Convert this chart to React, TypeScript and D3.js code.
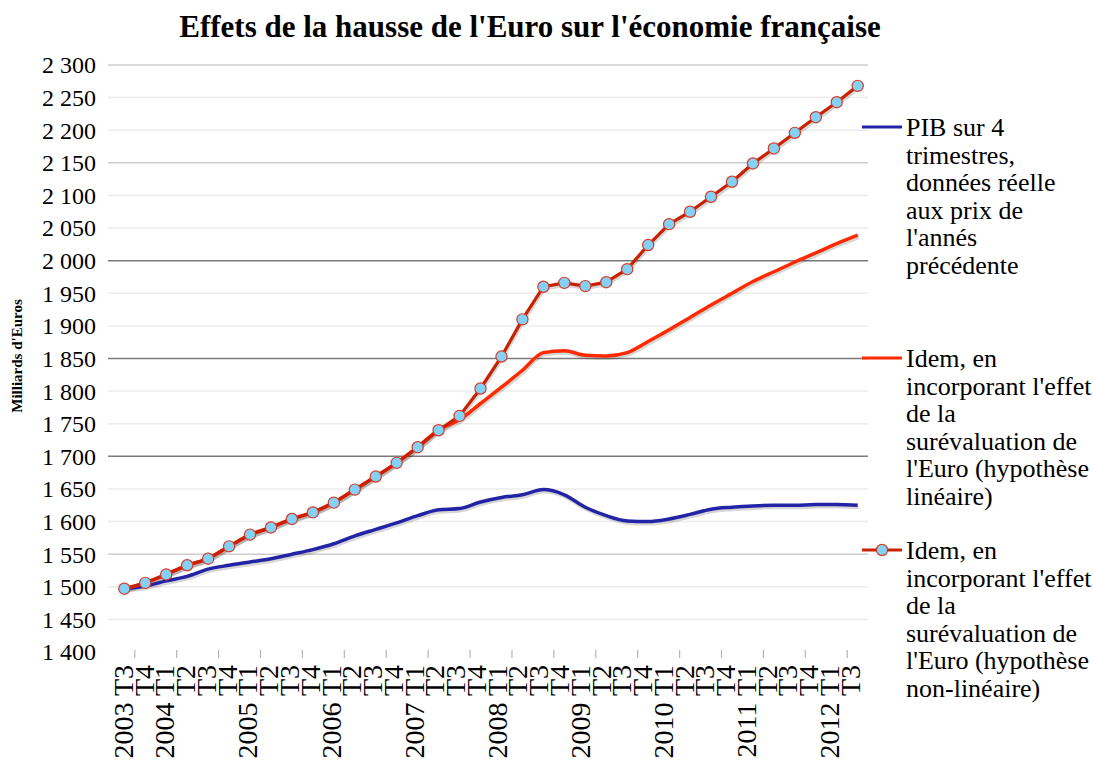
import React from 'react';
import * as d3 from 'd3';

const quarterLabels = [
  '2003 T3', 'T4',
  '2004 T1', 'T2', 'T3', 'T4',
  '2005 T1', 'T2', 'T3', 'T4',
  '2006 T1', 'T2', 'T3', 'T4',
  '2007 T1', 'T2', 'T3', 'T4',
  '2008 T1', 'T2', 'T3', 'T4',
  '2009 T1', 'T2', 'T3', 'T4',
  '2010 T1', 'T2', 'T3', 'T4',
  '2011 T1', 'T2', 'T3', 'T4',
  '2012 T1', 'T3',
];

const pibReel = [
  1497, 1501, 1509, 1516, 1527, 1533, 1538, 1543, 1550, 1557,
  1566, 1578, 1588, 1598, 1609, 1618, 1620, 1630, 1637, 1641,
  1649, 1641, 1622, 1609, 1601, 1600, 1604, 1611, 1619, 1622,
  1624, 1625, 1625, 1626, 1626, 1625,
];

const hypLineaire = [
  1497, 1506, 1519, 1533, 1543, 1562, 1580, 1591, 1604, 1614,
  1629, 1649, 1669, 1690, 1714, 1741, 1756, 1781, 1806, 1832,
  1859, 1862, 1855, 1854, 1859, 1876, 1894, 1913, 1932, 1950,
  1968, 1983, 1998, 2012, 2026, 2039,
];

const hypNonLineaire = [
  1497, 1506, 1519, 1533, 1543, 1562, 1580, 1591, 1604, 1614,
  1629, 1649, 1669, 1690, 1714, 1740, 1762, 1804, 1853, 1910,
  1960, 1966, 1961, 1967, 1987, 2024, 2056, 2075, 2098, 2121,
  2149, 2172, 2196, 2220, 2243, 2268,
];

const yTickValues = [
  1400, 1450, 1500, 1550, 1600, 1650, 1700, 1750, 1800, 1850,
  1900, 1950, 2000, 2050, 2100, 2150, 2200, 2250, 2300,
];

const legendPib = ['PIB sur 4', 'trimestres,', 'données réelle', 'aux prix de', "l'annés", 'précédente'];
const legendLin = ['Idem, en', "incorporant l'effet", 'de la', 'surévaluation de', "l'Euro (hypothèse", 'linéaire)'];
const legendNonLin = ['Idem, en', "incorporant l'effet", 'de la', 'surévaluation de', "l'Euro (hypothèse", 'non-linéaire)'];

const titleText = "Effets de la hausse de l'Euro sur l'économie française";
const yAxisTitle = "Milliards d'Euros";

const darkGrid = [1700, 1850, 2000];
const midGrid = [1550, 2150, 2300];

const SERIF = '"Liberation Serif", "Times New Roman", Times, serif';
const BLUE = '#2323a6';
const RED = '#ff2a00';
const DARKRED = '#c92000';
const MARKER = '#83d2f6';

export default function App() {
  const W = 1093;
  const H = 769;
  const idx = d3.range(quarterLabels.length);
  const x = d3.scalePoint<number>().domain(idx).range([124.3, 857.7]);
  const xLabel = d3.scalePoint<number>().domain(idx).range([123, 850]);
  const y = d3.scaleLinear().domain([1400, 2300]).range([652, 65]);
  const gridLeft = 108;
  const gridRight = 868;
  const step = x.step();

  const smooth = d3.line<number>().x((_, i) => x(i)!).y((d) => y(d)).curve(d3.curveMonotoneX);
  const straight = d3.line<number>().x((_, i) => x(i)!).y((d) => y(d));

  const fmt = (v: number) => `${Math.floor(v / 1000)} ${String(v % 1000).padStart(3, '0')}`;
  const gridColor = (v: number) =>
    darkGrid.includes(v) ? '#7a7a7a' : midGrid.includes(v) ? '#cdcdcd' : '#ececec';

  const legends = [
    { lines: legendPib, y: 127, color: BLUE, marker: false },
    { lines: legendLin, y: 358, color: RED, marker: false },
    { lines: legendNonLin, y: 550, color: DARKRED, marker: true },
  ];
  const lineH = 27.5;

  return (
    <svg
      width={W}
      height={H}
      style={{ position: 'absolute', left: 0, top: 0, background: '#fff' }}
      fontFamily={SERIF}
    >
      <rect x={0} y={0} width={W} height={H} fill="#fff" />
      <text x={530} y={37} textAnchor="middle" fontSize={31} fontWeight="bold" fill="#000" fontFamily={SERIF}>
        {titleText}
      </text>

      {yTickValues.map((v) => (
        <g key={v}>
          {v > 1400 && (
            <line x1={gridLeft} x2={gridRight} y1={y(v)} y2={y(v)} stroke={gridColor(v)} strokeWidth={1.5} />
          )}
          <text x={96} y={y(v)} dy="0.35em" textAnchor="end" fontSize={24} fill="#000" fontFamily={SERIF}>
            {fmt(v)}
          </text>
        </g>
      ))}

      <text
        transform={`translate(22,${356}) rotate(-90)`}
        textAnchor="middle"
        fontSize={15}
        fontWeight="bold"
        fill="#000"
        fontFamily={SERIF}
      >
        {yAxisTitle}
      </text>

      {idx.filter((i) => i % 2 === 0).map((i) => (
        <line key={i} x1={x(i)! + step / 2} x2={x(i)! + step / 2} y1={650} y2={658} stroke="#b5b5b5" strokeWidth={1.2} />
      ))}

      {quarterLabels.map((lab, i) => (
        <text
          key={i}
          transform={`translate(${xLabel(i)},665) rotate(-90)`}
          textAnchor="end"
          dy="0.35em"
          fontSize={28}
          fill="#000"
          fontFamily={SERIF}
        >
          {lab}
        </text>
      ))}

      {/* shadows */}
      <g transform="translate(1,2.5)" fill="none" stroke="rgba(0,0,0,0.16)" strokeWidth={3}>
        <path d={smooth(pibReel)!} />
        <path d={smooth(hypLineaire)!} />
        <path d={straight(hypNonLineaire)!} />
      </g>

      <path d={smooth(pibReel)!} fill="none" stroke={BLUE} strokeWidth={3.5} strokeLinejoin="round" />
      <path d={smooth(hypLineaire)!} fill="none" stroke={RED} strokeWidth={3.5} strokeLinejoin="round" />
      <path d={straight(hypNonLineaire)!} fill="none" stroke={DARKRED} strokeWidth={3.2} strokeLinejoin="round" />
      {hypNonLineaire.map((v, i) => (
        <circle key={i} cx={x(i)!} cy={y(v)} r={5.6} fill={MARKER} stroke="#d83a28" strokeWidth={1.2} />
      ))}

      {legends.map((lg, k) => (
        <g key={k}>
          <line x1={862} x2={902} y1={lg.y} y2={lg.y} stroke={lg.color} strokeWidth={3.2} />
          {lg.marker && <circle cx={882} cy={lg.y} r={5.6} fill={MARKER} stroke="#d83a28" strokeWidth={1.2} />}
          {lg.lines.map((t, j) => (
            <text key={j} x={906} y={lg.y + j * lineH} dy="0.35em" fontSize={26} fill="#000" fontFamily={SERIF}>
              {t}
            </text>
          ))}
        </g>
      ))}
    </svg>
  );
}
